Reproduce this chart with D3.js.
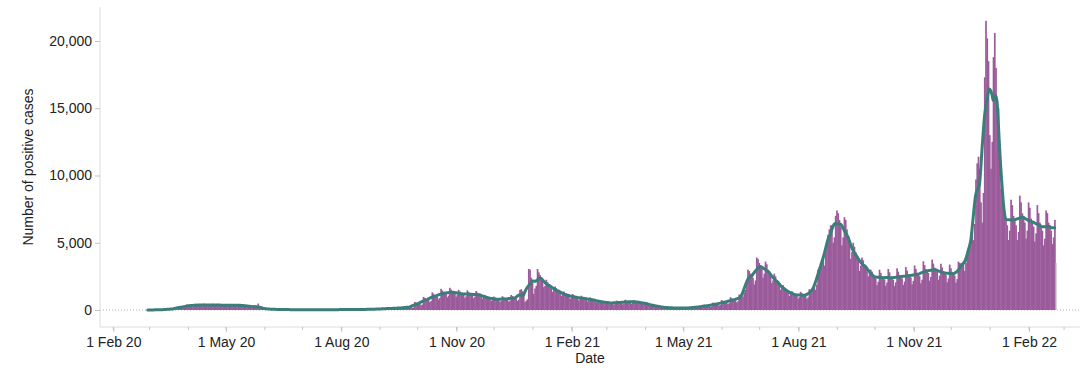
<!DOCTYPE html>
<html><head><meta charset="utf-8">
<script src="https://cdn.jsdelivr.net/npm/d3@7"></script>
<style>
html,body{margin:0;padding:0;background:#fff;}
svg{display:block;font-family:"Liberation Sans",Arial,Helvetica,sans-serif;}
</style></head><body>
<svg id="chart" width="1080" height="375"></svg>
<script>
// ---------- DATA ----------
const firstDate = "2020-02-28";
// daily positive cases by specimen date, 28 Feb 2020 .. 21 Feb 2022
const dailyCases = [
3,2,4,
12,12,10,10,9,7,8,
38,35,32,30,28,22,25,
100,92,84,80,76,60,68,
262,242,220,210,200,158,178,
412,380,346,330,314,248,280,
462,426,388,370,352,278,314,
475,437,399,380,361,285,323,
462,426,388,370,352,278,314,
444,408,373,355,337,266,302,
450,414,378,360,342,270,306,
425,391,357,340,323,255,289,
325,299,273,260,247,195,221,
188,480,158,150,143,113,128,
88,80,74,70,66,52,60,
50,46,42,40,38,30,34,
38,34,32,30,28,22,26,
31,29,26,25,24,19,21,
31,28,27,25,23,19,22,
28,25,23,22,21,16,19,
27,26,23,22,21,17,18,
31,29,26,25,24,19,21,
35,32,29,28,27,21,24,
40,37,34,32,30,24,27,
48,44,40,38,36,28,32,
56,52,47,45,43,34,38,
75,69,63,60,57,45,51,
112,104,94,90,86,68,76,
150,138,126,120,114,90,102,
188,172,158,150,142,112,128,
275,253,231,220,209,165,187,
600,552,504,480,456,360,408,
975,897,819,780,741,585,663,
1312,1208,1102,1050,998,788,892,
1575,1449,1323,1260,1197,945,1071,
1650,1518,1386,1320,1254,990,1122,
1500,1380,1260,1200,1140,900,1020,
1462,1346,1228,1170,1112,878,994,
1412,1300,1186,1130,1074,848,960,
1125,1035,945,900,855,675,765,
1000,920,840,800,760,600,680,
1025,943,861,820,779,615,697,
1125,1035,945,900,855,675,765,
1500,1550,1400,1200,600,700,800,
3050,3000,2400,2100,1200,1600,1800,
3050,2800,2600,2400,2200,1700,1800,
2250,2070,1890,1800,1710,1350,1530,
1750,1610,1470,1400,1330,1050,1190,
1375,1265,1155,1100,1045,825,935,
1188,1092,998,950,902,712,808,
1062,978,892,850,808,638,722,
938,862,788,750,712,562,638,
750,690,630,600,570,450,510,
650,598,546,520,494,390,442,
700,644,588,560,532,420,476,
762,702,640,610,580,458,518,
750,690,630,600,570,450,510,
600,552,504,480,456,360,408,
400,368,336,320,304,240,272,
250,230,210,200,190,150,170,
200,184,168,160,152,120,136,
175,161,147,140,133,105,119,
200,184,168,160,152,120,136,
288,264,242,230,218,172,196,
400,368,336,320,304,240,272,
550,506,462,440,418,330,374,
738,678,620,590,560,442,502,
950,874,798,760,722,570,646,
1150,1100,1050,1000,1300,1500,2000,
3000,2900,2700,2500,2400,1900,2200,
3900,3800,3500,3300,3100,2400,2700,
3600,3400,3000,2800,2600,2000,2200,
2700,2500,2200,2000,1900,1500,1700,
1850,1700,1550,1450,1350,1050,1200,
1400,1300,1200,1130,1080,850,960,
1350,1250,1150,1100,1050,830,940,
1550,1450,1500,1600,1700,1500,1900,
3000,3200,3500,3700,3900,3300,4200,
5000,5600,6000,6300,6300,5000,5400,
7000,7400,7200,6700,6200,4800,5400,
6900,6700,6000,5400,5000,3800,4300,
5000,4700,4300,4000,3800,2900,3300,
3900,3700,3400,3200,3100,2500,2800,
3000,2850,2600,2450,2350,1850,2100,
3000,2760,2520,2400,2280,1800,2040,
3050,2800,2500,2380,2250,1780,2050,
3100,2852,2604,2480,2356,1860,2108,
3190,2932,2678,2550,2422,1912,2168,
3312,3048,2782,2650,2518,1988,2252,
3625,3335,3045,2900,2755,2175,2465,
3750,3450,3150,3000,2850,2250,2550,
3438,3162,2888,2750,2612,2062,2338,
3375,3105,2835,2700,2565,2025,2295,
3600,3500,3300,3400,3600,2900,3500,
4000,4300,4800,5500,6000,5200,6400,
9700,10900,11400,10500,8000,6500,8700,
17300,21500,20200,18500,13000,10500,12500,
18800,20600,18000,15600,15000,11000,9000,
8200,7800,7000,6600,6300,5200,5900,
8200,7800,7000,6600,6300,5200,5800,
8500,8000,7200,6900,6500,5300,5900,
8000,7600,6800,6500,6200,5100,5700,
7800,7200,6500,6200,5900,4800,5300,
7400,7200,6500,6200,5900,4900,5400,
6700
];
// most recent day(s), data still incomplete
const incompleteCases = [3500];
const rollingWindow = 7;

const majorTickDates = ["2020-02-01","2020-05-01","2020-08-01","2020-11-01",
  "2021-02-01","2021-05-01","2021-08-01","2021-11-01","2022-02-01"];
const yTickValues = [0, 5000, 10000, 15000, 20000];
const xTitle = "Date";
const yTitle = "Number of positive cases";

const colors = { bar: "#9b5b9b", incomplete: "#b3b3ba", line: "#3b7e79",
  axis: "#dcdcdc", tick: "#c4c4c4", text: "#222", zero: "#b0b0b0" };

// ---------- CHART ----------
const parse = d3.timeParse("%Y-%m-%d");
const start = parse(firstDate);
const rows = dailyCases.map((v, i) => ({ date: d3.timeDay.offset(start, i), value: v, incomplete: false }));
incompleteCases.forEach((v, j) => rows.push({ date: d3.timeDay.offset(start, dailyCases.length + j), value: v, incomplete: true }));

// 7-day rolling average (centred; kept a full 7 days wide at the edges)
const half = Math.floor(rollingWindow / 2);
const n = dailyCases.length;
const rolling = dailyCases.map((v, i) => {
  const a = Math.max(0, Math.min(n - rollingWindow, i - half));
  return { date: d3.timeDay.offset(start, i), value: d3.mean(dailyCases.slice(a, a + rollingWindow)) };
});

const L = 100, R = 1080, T = 7, B = 327;
const x0 = d3.scaleTime().domain([parse("2020-02-01"), parse("2022-02-01")]).range([113.3, 1029]);
const x = d3.scaleTime().domain([x0.invert(L), x0.invert(R)]).range([L, R]);
const y0 = d3.scaleLinear().domain([0, 20000]).range([310, 41]);
const y = d3.scaleLinear().domain([y0.invert(B), y0.invert(T)]).range([B, T]);

const svg = d3.select("#chart");

// zero reference line
svg.append("line").attr("x1", L).attr("x2", R).attr("y1", y(0)).attr("y2", y(0))
  .attr("stroke", colors.zero).attr("stroke-width", 1).attr("stroke-dasharray", "1,2");

// bars (slight overlap avoids anti-aliasing seams)
svg.append("g").selectAll("rect").data(rows).join("rect")
  .attr("x", d => x(d.date))
  .attr("width", d => x(d3.timeDay.offset(d.date, 1)) - x(d.date) + (d.incomplete ? 0 : 0.45))
  .attr("y", d => y(d.value))
  .attr("height", d => y(0) - y(d.value))
  .attr("fill", d => d.incomplete ? colors.incomplete : colors.bar);

// rolling average line
const line = d3.line()
  .x(d => x(d3.timeHour.offset(d.date, 12)))
  .y(d => y(d.value))
  .curve(d3.curveMonotoneX);
svg.append("path").datum(rolling).attr("d", line)
  .attr("fill", "none").attr("stroke", colors.line).attr("stroke-width", 3)
  .attr("stroke-linejoin", "round").attr("stroke-linecap", "round");

// axes lines
svg.append("line").attr("x1", L).attr("x2", L).attr("y1", T).attr("y2", B).attr("stroke", colors.axis);
svg.append("line").attr("x1", L).attr("x2", R).attr("y1", B).attr("y2", B).attr("stroke", colors.axis);

// minor monthly ticks
const months = d3.timeMonth.range(x.domain()[0], x.domain()[1]);
svg.append("g").selectAll("line").data(months).join("line")
  .attr("x1", d => x(d)).attr("x2", d => x(d)).attr("y1", B).attr("y2", B + 3)
  .attr("stroke", colors.tick);

// x axis
const fmt = d3.timeFormat("%-d %b %y");
const xAxis = svg.append("g").attr("transform", `translate(0,${B})`)
  .call(d3.axisBottom(x).tickValues(majorTickDates.map(parse)).tickFormat(fmt).tickSize(5).tickPadding(5));
xAxis.select(".domain").remove();
xAxis.selectAll(".tick line").attr("stroke", colors.tick);
xAxis.selectAll(".tick text").attr("fill", colors.text).style("font-size", "14px")
  .style("font-family", '"Liberation Sans", Arial, sans-serif');

// y axis
const yAxis = svg.append("g").attr("transform", `translate(${L},0)`)
  .call(d3.axisLeft(y).tickValues(yTickValues).tickFormat(d3.format(",")).tickSize(5).tickPadding(3));
yAxis.select(".domain").remove();
yAxis.selectAll(".tick line").attr("stroke", colors.tick);
yAxis.selectAll(".tick text").attr("fill", colors.text).style("font-size", "14px")
  .style("font-family", '"Liberation Sans", Arial, sans-serif');

// titles
svg.append("text").attr("x", (L + R) / 2).attr("y", 362.5).attr("text-anchor", "middle")
  .attr("fill", colors.text).style("font-size", "14px").text(xTitle);
svg.append("text").attr("transform", `translate(33,${(T + B) / 2}) rotate(-90)`)
  .attr("text-anchor", "middle").attr("fill", colors.text).style("font-size", "14px").text(yTitle);
</script>
</body></html>
